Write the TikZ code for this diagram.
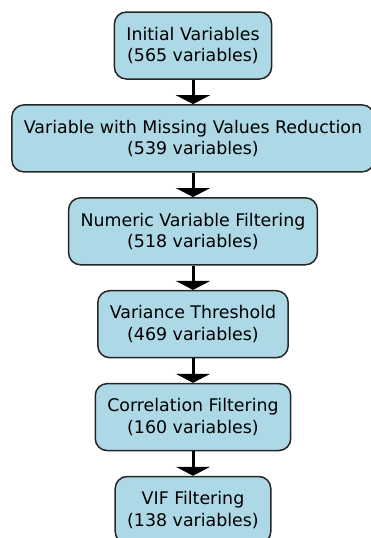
\documentclass[tikz,border=0pt]{standalone}
\usepackage{fontspec}
\setmainfont{DejaVu Sans}
\usepackage{xcolor}
\usetikzlibrary{positioning,arrows.meta}
\definecolor{boxblue}{HTML}{ADD8E6}

\begin{document}
\begin{tikzpicture}
      [ x=1pt, y=1pt, node distance=24.4pt,
        stage/.style={draw=black!85, fill=boxblue, rounded corners=12pt,
          line width=1.5pt, align=center, minimum height=67pt, inner xsep=12pt,
          font=\fontsize{17.4pt}{21.5pt}\selectfont},
        flow/.style={-{Triangle[length=9pt,width=34pt]}, line width=3pt}
      ]
      \path[use as bounding box, clip] (0,0) rectangle (371,-538);
      \node[stage] (init) at (193,-45.5)  {Initial Variables\\(565 variables)};
      \node[stage] (miss) [below=of init] {Variable with Missing Values Reduction\\(539 variables)};
      \node[stage] (num)  [below=of miss] {Numeric Variable Filtering\\(518 variables)};
      \node[stage] (var)  [below=of num]  {Variance Threshold\\(469 variables)};
      \node[stage] (corr) [below=of var]  {Correlation Filtering\\(160 variables)};
      \node[stage] (vif)  [below=of corr] {VIF Filtering\\(138 variables)};

      \path[flow] (init) edge (miss)
                  (miss) edge (num)
                  (num)  edge (var)
                  (var)  edge (corr)
                  (corr) edge (vif);
\end{tikzpicture}
\end{document}
